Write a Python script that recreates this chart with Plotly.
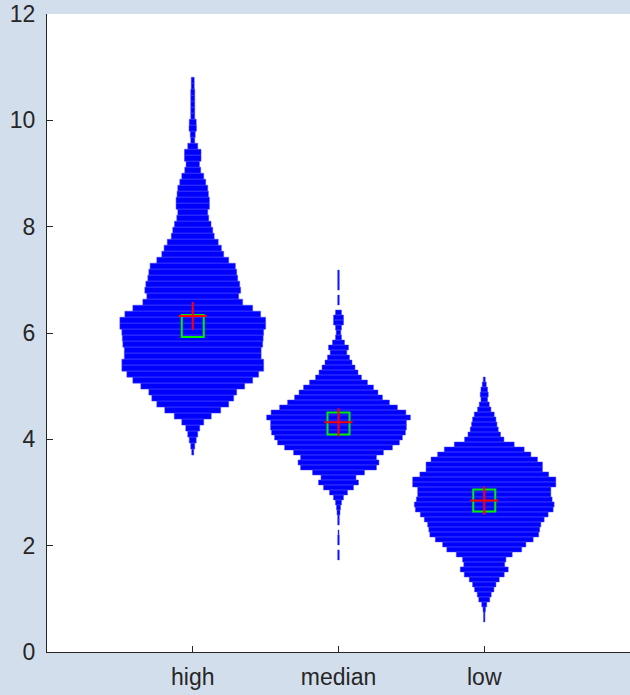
import plotly.graph_objects as go

# ---- data ----
categories = ["high", "median", "low"]

# histogram-style distribution profiles (relative density per bin, top bin first)
high_top = 10.81
high_bin = 0.1128
high_density = [1.5, 1.5, 2, 2, 2, 2, 2, 3.5, 3.7, 2.5, 2,
                5, 8.3, 8.3, 6.7, 8, 11, 13, 15, 15.7, 16.7, 16.7, 15, 16, 18.3, 20, 21.5,
                25.5, 28.7, 31, 36, 42.7,
                44, 45, 47, 48, 46, 50, 60, 68, 73, 73, 71, 70.5, 70, 68.5, 68.5, 71, 71,
                66, 60, 52, 44, 41, 36, 28, 18.5, 11, 7, 5, 3.5, 2, 1]

median_top = 7.184
median_bin = 0.094
median_density = [0.8, 0.8, 0.8, 0.8, 0, 0.8, 0.8, 0, 3, 5, 5, 3, 2.3, 3, 6, 10, 8.3,
                  11, 13.5, 16.5, 19.5, 23, 29, 35, 39.5, 44, 51, 59, 67.5, 72, 68, 68,
                  67, 64, 61, 54, 45, 38, 40.5, 38, 26, 17.5, 20, 15, 9, 5, 3, 2, 1.5,
                  0.8, 0.8, 0, 0.5, 0.8, 0.8, 0, 0.8, 0.8]

low_top = 5.172
low_bin = 0.094
low_density = [1, 2, 3.3, 4, 3.3, 5, 6.7, 10, 11.7, 12.7, 14, 16.3, 19.7, 30, 40,
               46.7, 53.3, 58.3, 58.3, 64.5, 71.7, 71.7, 66.7, 66.7, 68, 70, 69, 64,
               60, 56.7, 55.5, 54.5, 49, 41.7, 37.5, 28, 21.7, 20.5, 24, 20, 15, 11.7,
               9.7, 7, 5.5, 2.5, 1.2, 0.7, 0.7]

means = [6.13, 4.30, 2.85]
medians = [6.32, 4.32, 2.85]

# ---- figure ----
profiles = [(high_top, high_bin, high_density),
            (median_top, median_bin, median_density),
            (low_top, low_bin, low_density)]
max_density = max(max(high_density), max(median_density), max(low_density))
half_scale = 0.5 / max_density

fig = go.Figure()
for gi, (top, binh, dens) in enumerate(profiles):
    xc = gi + 1
    xs, ys = [], []
    for i, d in enumerate(dens):
        if d <= 0:
            continue
        y1 = top - i * binh
        y0 = y1 - binh
        hw = d * half_scale
        xs += [xc - hw, xc + hw, xc + hw, xc - hw, xc - hw, None]
        ys += [y0, y0, y1, y1, y0, None]
    fig.add_trace(go.Scatter(
        x=xs, y=ys, mode="lines", fill="toself",
        fillcolor="#0000ff", line=dict(color="#4646ff", width=0.5),
        hoverinfo="skip", showlegend=False))

xpos = [1, 2, 3]
fig.add_trace(go.Scatter(
    x=xpos, y=means, mode="markers", showlegend=False,
    marker=dict(symbol="square-open", size=22, color="#00ee00",
                line=dict(color="#00ee00", width=2))))
fig.add_trace(go.Scatter(
    x=xpos, y=medians, mode="markers", showlegend=False,
    marker=dict(symbol="cross-thin-open", size=20, color="#ff0000",
                line=dict(color="#ff0000", width=2))))

axis_color = "#262626"
bg = "#d3deed"
fig.update_layout(
    width=630, height=695,
    margin=dict(l=47, r=0, t=14, b=43),
    paper_bgcolor=bg,
    plot_bgcolor="#ffffff",
    font=dict(family="Liberation Sans, Arial, sans-serif", size=23, color=axis_color),
    showlegend=False,
    xaxis=dict(range=[0, 4], tickvals=xpos, ticktext=categories,
               showline=True, linecolor=axis_color, linewidth=1,
               ticks="inside", ticklen=6, tickcolor=axis_color,
               ticklabelstandoff=4,
               showgrid=False, zeroline=False),
    yaxis=dict(range=[0, 12], dtick=2, tick0=0,
               showline=True, linecolor=axis_color, linewidth=1,
               ticks="inside", ticklen=6, tickcolor=axis_color,
               ticklabelstandoff=6,
               showgrid=False, zeroline=False),
)

fig.write_html(
    "out.html",
    config={"displayModeBar": False},
    post_script="document.body.style.margin='0';document.body.style.background='" + bg + "';",
)
